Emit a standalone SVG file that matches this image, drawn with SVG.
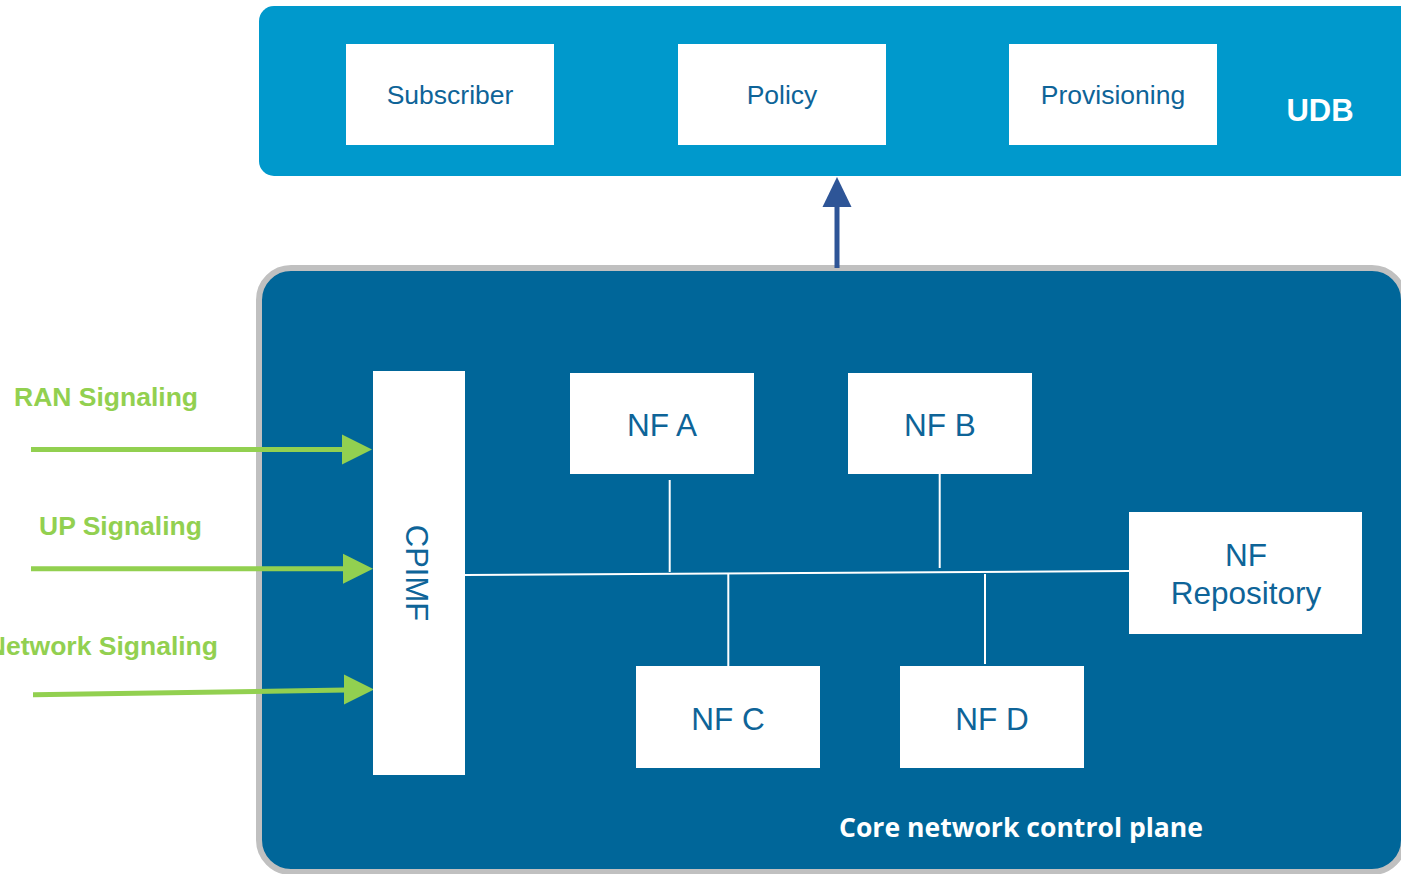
<svg xmlns="http://www.w3.org/2000/svg" width="1401" height="874" viewBox="0 0 1401 874">
  <style>
    .box { fill: #ffffff; }
    .lbl { font-family: "Liberation Sans", Arial, sans-serif; fill: #0E6498; text-anchor: middle; }
    .sig { font-family: "Liberation Sans", Arial, sans-serif; font-weight: bold; font-size: 26.5px; fill: #92D050; }
    .bus { stroke: #ffffff; stroke-width: 2; fill: none; }
    .green { stroke: #92D050; stroke-width: 5; fill: none; }
    .greenhead { fill: #92D050; }
  </style>
  <rect width="1401" height="874" fill="#ffffff"/>

  <!-- UDB container -->
  <g id="udb">
    <rect x="259" y="6" width="1160" height="170" rx="15" fill="#0099CC"/>
    <text x="1320" y="121" font-family="Liberation Sans, Arial, sans-serif" font-weight="bold" font-size="31" fill="#ffffff" text-anchor="middle">UDB</text>
  </g>
  <g id="subscriber">
    <rect class="box" x="346" y="44" width="208" height="101"/>
    <text class="lbl" x="450" y="104" font-size="26.5">Subscriber</text>
  </g>
  <g id="policy">
    <rect class="box" x="678" y="44" width="208" height="101"/>
    <text class="lbl" x="782" y="104" font-size="26.5">Policy</text>
  </g>
  <g id="provisioning">
    <rect class="box" x="1009" y="44" width="208" height="101"/>
    <text class="lbl" x="1113" y="104" font-size="26.5">Provisioning</text>
  </g>

  <!-- Core network control plane container -->
  <g id="core">
    <rect x="259" y="268" width="1145" height="604" rx="32" fill="#006699" stroke="#C0C0C0" stroke-width="6"/>
    <text x="1021" y="837" font-family="Open Sans, Lato, sans-serif" font-weight="bold" font-size="27" fill="#ffffff" text-anchor="middle" textLength="364" lengthAdjust="spacingAndGlyphs">Core network control plane</text>
  </g>

  <!-- connectors -->
  <g id="connectors">
    <!-- internal bus -->
    <line class="bus" x1="465" y1="575" x2="1129" y2="571"/>
    <line class="bus" x1="669.7" y1="480" x2="669.7" y2="572"/>
    <line class="bus" x1="939.7" y1="474" x2="939.7" y2="568"/>
    <line class="bus" x1="728.3" y1="573" x2="728.3" y2="666"/>
    <line class="bus" x1="985" y1="574" x2="985" y2="664"/>

    <!-- core to UDB -->
    <line x1="837" y1="268" x2="837" y2="204" stroke="#2E5597" stroke-width="5"/>
    <polygon points="837,177 822.5,207 851.5,207" fill="#2E5597"/>

    <!-- incoming signaling -->
    <line class="green" x1="31" y1="449.5" x2="344" y2="449.5"/>
    <polygon class="greenhead" points="372,449.5 342,434.5 342,464.5"/>
    <line class="green" x1="31" y1="568.7" x2="344" y2="568.7"/>
    <polygon class="greenhead" points="373,568.7 343,553.7 343,583.7"/>
    <line class="green" x1="33" y1="694.8" x2="346" y2="690"/>
    <polygon class="greenhead" points="374,689.5 344,674.5 344,704.5"/>
  </g>

  <g id="labels">
    <text class="sig" x="14" y="406">RAN Signaling</text>
    <text class="sig" x="39" y="535">UP Signaling</text>
    <text class="sig" x="218" y="655" text-anchor="end">Network Signaling</text>
  </g>

  <g id="cpimf">
    <rect class="box" x="373" y="371" width="92" height="404"/>
    <text class="lbl" transform="translate(406,573) rotate(90)" x="0" y="0" font-size="31">CPIMF</text>
  </g>
  <g id="nf-a">
    <rect class="box" x="570" y="373" width="184" height="101"/>
    <text class="lbl" x="662" y="436" font-size="31.5">NF A</text>
  </g>
  <g id="nf-b">
    <rect class="box" x="848" y="373" width="184" height="101"/>
    <text class="lbl" x="940" y="436" font-size="31.5">NF B</text>
  </g>
  <g id="nf-c">
    <rect class="box" x="636" y="666" width="184" height="102"/>
    <text class="lbl" x="728" y="730" font-size="31.5">NF C</text>
  </g>
  <g id="nf-d">
    <rect class="box" x="900" y="666" width="184" height="102"/>
    <text class="lbl" x="992" y="730" font-size="31.5">NF D</text>
  </g>
  <g id="nf-repository">
    <rect class="box" x="1129" y="512" width="233" height="122"/>
    <text class="lbl" x="1246" y="566" font-size="31.5">NF</text>
    <text class="lbl" x="1246" y="604" font-size="31.5">Repository</text>
  </g>
</svg>
